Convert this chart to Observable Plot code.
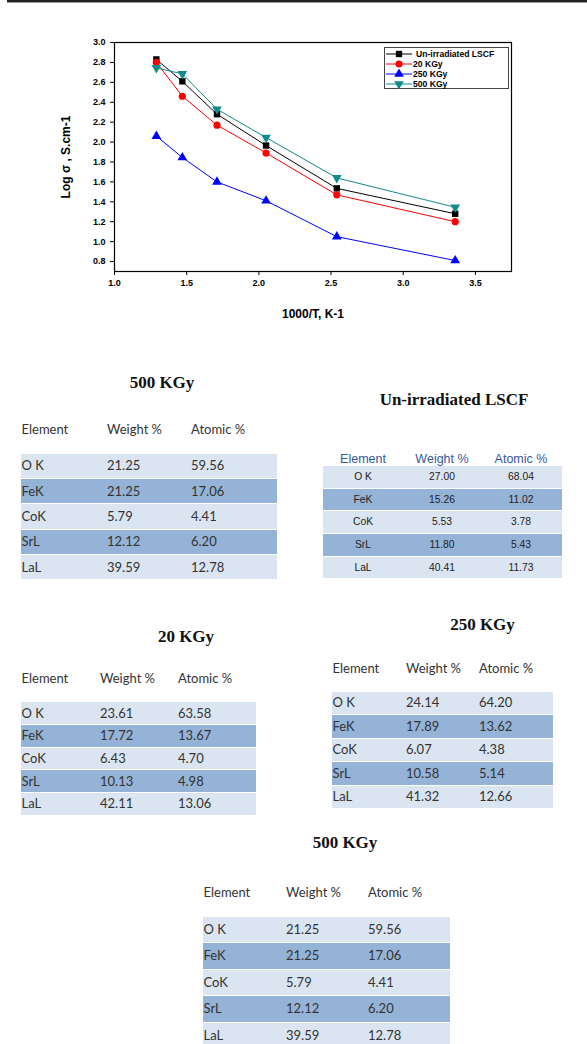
<!DOCTYPE html>
<html><head><meta charset="utf-8">
<script src="https://cdn.jsdelivr.net/npm/d3@7"></script>
<script src="https://cdn.jsdelivr.net/npm/@observablehq/plot@0.6"></script>
<style>
body{margin:0;background:#fff;}
#page{position:relative;width:587px;height:1044px;overflow:hidden;background:#fff;}
#page > svg{position:absolute;left:0;top:0;}
.abs{position:absolute;white-space:nowrap;}
.ttl{font-family:"Liberation Serif","Times New Roman",serif;font-weight:bold;font-size:17px;color:#111;line-height:20px;height:20px;transform:translateX(-50%);}
.wt{font-family:Lato,"Open Sans",sans-serif;font-size:13px;color:#333;line-height:18px;height:18px;}
.at{font-family:"Liberation Sans",Arial,sans-serif;font-size:10.3px;color:#222;line-height:14px;height:14px;transform:translateX(-50%);}
.ah{font-family:"Liberation Sans",Arial,sans-serif;font-size:12.5px;color:#35599b;line-height:16px;height:16px;transform:translateX(-50%);}
.band{position:absolute;border-bottom:1px solid #fff;box-sizing:border-box;}
svg [aria-label="x-axis label"], svg [aria-label="y-axis label"]{font-size:12px;}
#legend{position:absolute;left:384px;top:47px;width:125px;height:42px;border:1.5px solid #444;box-sizing:border-box;background:#fff;}
#legend .it{position:absolute;left:0;width:122px;height:10px;}
#legend span{position:absolute;top:0;white-space:nowrap;font-family:"Liberation Sans",Arial,sans-serif;font-weight:bold;font-size:8.6px;line-height:10px;color:#000;}
</style></head><body>
<div id="page"></div>
<script>
// ---------- chart data ----------
const invT = [1.29, 1.47, 1.71, 2.05, 2.54, 3.36];
const logUnirr = [2.83, 2.61, 2.28, 1.965, 1.535, 1.28];
const log20 = [2.80, 2.46, 2.17, 1.89, 1.47, 1.20];
const log250 = [2.06, 1.845, 1.60, 1.41, 1.05, 0.81];
const log500 = [2.745, 2.685, 2.33, 2.045, 1.64, 1.345];
const seriesNames = ["Un-irradiated LSCF", "20 KGy", "250 KGy", "500 KGy"];
const seriesColors = ["#000000", "#ff0000", "#0000ff", "#138a8a"];
const seriesSymbols = ["square", "circle", "triangle", "triangle"];
const seriesRotate = [0, 0, 0, 180];
const xTicks = [1.0, 1.5, 2.0, 2.5, 3.0, 3.5];
const yTicks = [0.8, 1.0, 1.2, 1.4, 1.6, 1.8, 2.0, 2.2, 2.4, 2.6, 2.8, 3.0];

// ---------- table data ----------
const elements = ["O K", "FeK", "CoK", "SrL", "LaL"];
const colHeads = ["Element", "Weight %", "Atomic %"];
const weight500 = [21.25, 21.25, 5.79, 12.12, 39.59];
const atomic500 = [59.56, 17.06, 4.41, 6.20, 12.78];
const weightUn = [27.00, 15.26, 5.53, 11.80, 40.41];
const atomicUn = [68.04, 11.02, 3.78, 5.43, 11.73];
const weight20 = [23.61, 17.72, 6.43, 10.13, 42.11];
const atomic20 = [63.58, 13.67, 4.70, 4.98, 13.06];
const weight250 = [24.14, 17.89, 6.07, 10.58, 41.32];
const atomic250 = [64.20, 13.62, 4.38, 5.14, 12.66];

const page = document.getElementById("page");

// top rule
const rule = document.createElement("div");
rule.style.cssText = "position:absolute;left:7px;right:0;top:0;height:2px;background:#222;border-bottom:1px solid #999;";
page.appendChild(rule);

const data = seriesNames.flatMap((s, i) => {
  const ys = [logUnirr, log20, log250, log500][i];
  return invT.map((x, j) => ({series: s, x, y: ys[j], rot: seriesRotate[i]}));
});

const chart = Plot.plot({
  width: 587, height: 330,
  marginLeft: 114, marginRight: 76, marginTop: 42, marginBottom: 59,
  style: {fontFamily: "Liberation Sans, Arial, sans-serif", fontSize: "9px", fontWeight: "bold", color: "#000", background: "transparent", overflow: "visible"},
  x: {domain: [1, 3.75], ticks: xTicks, tickFormat: d3.format(".1f"), label: "1000/T, K-1", labelAnchor: "center", labelOffset: 46, tickSize: 4, tickPadding: 4, labelArrow: "none"},
  y: {domain: [0.7, 3.0], ticks: yTicks, tickFormat: d3.format(".1f"), label: "Log σ , S.cm-1", labelAnchor: "center", labelOffset: 53, tickSize: 4, tickPadding: 5, labelArrow: "none"},
  color: {domain: seriesNames, range: seriesColors},
  symbol: {domain: seriesNames, range: seriesSymbols},
  marks: [
    Plot.frame({stroke: "#000", strokeWidth: 1.2}),
    Plot.line(data, {x: "x", y: "y", z: "series", stroke: "series", strokeWidth: 1}),
    Plot.dot(data, {x: "x", y: "y", fill: "series", symbol: "series", rotate: "rot", r: 3.6})
  ]
});
page.appendChild(chart);

// legend
const legend = document.createElement("div");
legend.id = "legend";
seriesNames.forEach((s, i) => {
  const it = document.createElement("div");
  it.className = "it";
  it.style.top = (1 + i * 10) + "px";
  const svg = d3.create("svg").attr("width", 32).attr("height", 10).style("position", "absolute").style("left", "0px").style("top", "0px");
  svg.append("line").attr("x1", 1).attr("x2", 27).attr("y1", 5).attr("y2", 5).attr("stroke", seriesColors[i]).attr("stroke-width", 1);
  const sym = {square: d3.symbolSquare, circle: d3.symbolCircle, triangle: d3.symbolTriangle}[seriesSymbols[i]];
  svg.append("path").attr("d", d3.symbol(sym, 40)()).attr("fill", seriesColors[i])
    .attr("transform", `translate(14,5) rotate(${seriesRotate[i]})`);
  it.appendChild(svg.node());
  const sp = document.createElement("span");
  sp.textContent = s;
  sp.style.left = (i === 0 ? 31 : 28) + "px";
  it.appendChild(sp);
  legend.appendChild(it);
});
page.appendChild(legend);

// ---------- tables ----------
function addDiv(cls, text, left, top) {
  const d = document.createElement("div");
  d.className = "abs " + cls;
  d.textContent = text;
  d.style.left = left + "px";
  d.style.top = top + "px";
  page.appendChild(d);
  return d;
}
function addBand(L, r) {
  const b = document.createElement("div");
  b.className = "band";
  b.style.left = L.bandL + "px";
  b.style.width = (L.bandR - L.bandL) + "px";
  b.style.top = (L.top + r * L.h) + "px";
  b.style.height = L.h + "px";
  b.style.background = r % 2 ? "#95b3d7" : "#dbe5f1";
  page.appendChild(b);
}
function wordTable(title, weights, atomics, L) {
  addDiv("ttl", title, L.titleX, L.titleY - 10);
  colHeads.forEach((h, c) => addDiv("wt", h, L.cols[c], L.headY - 9));
  elements.forEach((e, r) => {
    addBand(L, r);
    const cy = L.top + r * L.h + L.h / 2 - 10;
    [e, weights[r].toFixed(2), atomics[r].toFixed(2)].forEach((t, c) => addDiv("wt", t, L.cols[c], cy));
  });
}
function arialTable(title, weights, atomics, L) {
  addDiv("ttl", title, L.titleX, L.titleY - 10);
  colHeads.forEach((h, c) => addDiv("ah", h, L.cols[c], L.headY - 8));
  elements.forEach((e, r) => {
    addBand(L, r);
    const cy = L.top + r * L.h + L.h / 2 - 7.5;
    [e, weights[r].toFixed(2), atomics[r].toFixed(2)].forEach((t, c) => addDiv("at", t, L.cols[c], cy));
  });
}

wordTable("500 KGy", weight500, atomic500, {titleX: 162, titleY: 383, headY: 429, cols: [21.5, 107, 191], bandL: 20.5, bandR: 277, top: 453.7, h: 25.3});
arialTable("Un-irradiated LSCF", weightUn, atomicUn, {titleX: 454, titleY: 400, headY: 459, cols: [363, 442, 521], bandL: 323, bandR: 562, top: 466, h: 22.7});
wordTable("20 KGy", weight20, atomic20, {titleX: 186, titleY: 637, headY: 678, cols: [21.5, 100, 178], bandL: 20.5, bandR: 256, top: 702.3, h: 22.7});
wordTable("250 KGy", weight250, atomic250, {titleX: 482.5, titleY: 625, headY: 668, cols: [332.5, 406, 479], bandL: 332, bandR: 552.7, top: 691.7, h: 23.5});
wordTable("500 KGy", weight500, atomic500, {titleX: 345, titleY: 843, headY: 892, cols: [203.5, 286, 368], bandL: 203, bandR: 450, top: 916.7, h: 26.5});
</script>
</body></html>
